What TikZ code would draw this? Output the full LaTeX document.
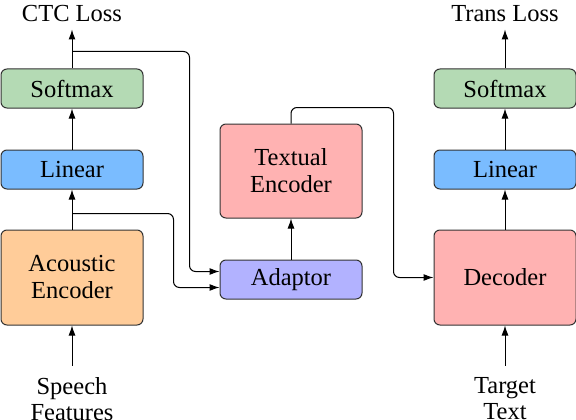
\documentclass[tikz,border=0pt]{standalone}
\usepackage{fontspec}
\setmainfont{Liberation Serif}
\usetikzlibrary{positioning,arrows.meta}

\definecolor{smgreen}{RGB}{180,218,180}
\definecolor{linblue}{RGB}{122,188,255}
\definecolor{acorange}{RGB}{255,204,153}
\definecolor{encpink}{RGB}{255,178,178}
\definecolor{adpurple}{RGB}{178,178,255}

\tikzset{
  blk/.style={draw=black!80, line width=1pt, rounded corners=6pt,
              minimum width=142pt, align=center,
              font=\fontsize{24.5}{27}\selectfont},
  thinbox/.style={blk, minimum height=39pt},
  tallbox/.style={blk, minimum height=95pt},
  lbl/.style={inner sep=0pt, align=center,
              font=\fontsize{24.5}{26}\selectfont},
  wire/.style={->, line width=1pt, rounded corners=6pt},
}

\begin{document}
\begin{tikzpicture}[x=1pt, y=1pt, >={Latex[length=10pt,width=7pt]}, node distance=40pt]

  \useasboundingbox (0,0) rectangle (576,-420);

  % acoustic side
  \node[tallbox, fill=acorange] (ac) at (72,-277.5) {Acoustic\\Encoder};
  \node[thinbox, fill=linblue, above=of ac] (lin1) {Linear};
  \node[thinbox, fill=smgreen, above=41pt of lin1] (sm1) {Softmax};
  \node[lbl, above=47pt of sm1] (ctc) {CTC Loss};
  \node[lbl, below=52pt of ac] (speech) {Speech\\Features};

  % textual side
  \node[thinbox, fill=adpurple, right=76pt of ac, yshift=-2pt] (ad) {Adaptor};
  \node[blk, minimum height=94pt, fill=encpink, above=41pt of ad] (te) {Textual\\Encoder};

  % decoder side
  \node[tallbox, fill=encpink, right=71pt of ad, yshift=2pt] (dec) {Decoder};
  \node[thinbox, fill=linblue, above=of dec] (lin2) {Linear};
  \node[thinbox, fill=smgreen, above=41pt of lin2] (sm2) {Softmax};
  \node[lbl, above=47pt of sm2] (trans) {Trans Loss};
  \node[lbl, below=52pt of dec] (target) {Target\\Text};

  \coordinate (ctcsplit) at ([yshift=17pt]sm1.north);
  \coordinate (encsplit) at ([yshift=16pt]ac.north);

  \draw[wire, shorten <=12pt] (speech) -- (ac);
  \draw[wire] (ac) -- (lin1);
  \draw[wire] (lin1) -- (sm1);
  \draw[wire, shorten >=8pt] (sm1) -- (ctc);

  \draw[wire] (ctcsplit) -| ([xshift=-30pt,yshift=8pt]ad.west) -- ([yshift=8pt]ad.west);
  \draw[wire] (encsplit) -| ([xshift=-46pt,yshift=-8pt]ad.west) -- ([yshift=-8pt]ad.west);
  \draw[wire] (ad) -- (te);
  \draw[wire] (te.north) -- ++(0,16pt) -| ([xshift=-40pt]dec.west) -- (dec.west);

  \draw[wire, shorten <=12pt] (target) -- (dec);
  \draw[wire] (dec) -- (lin2);
  \draw[wire] (lin2) -- (sm2);
  \draw[wire, shorten >=8pt] (sm2) -- (trans);

\end{tikzpicture}
\end{document}
